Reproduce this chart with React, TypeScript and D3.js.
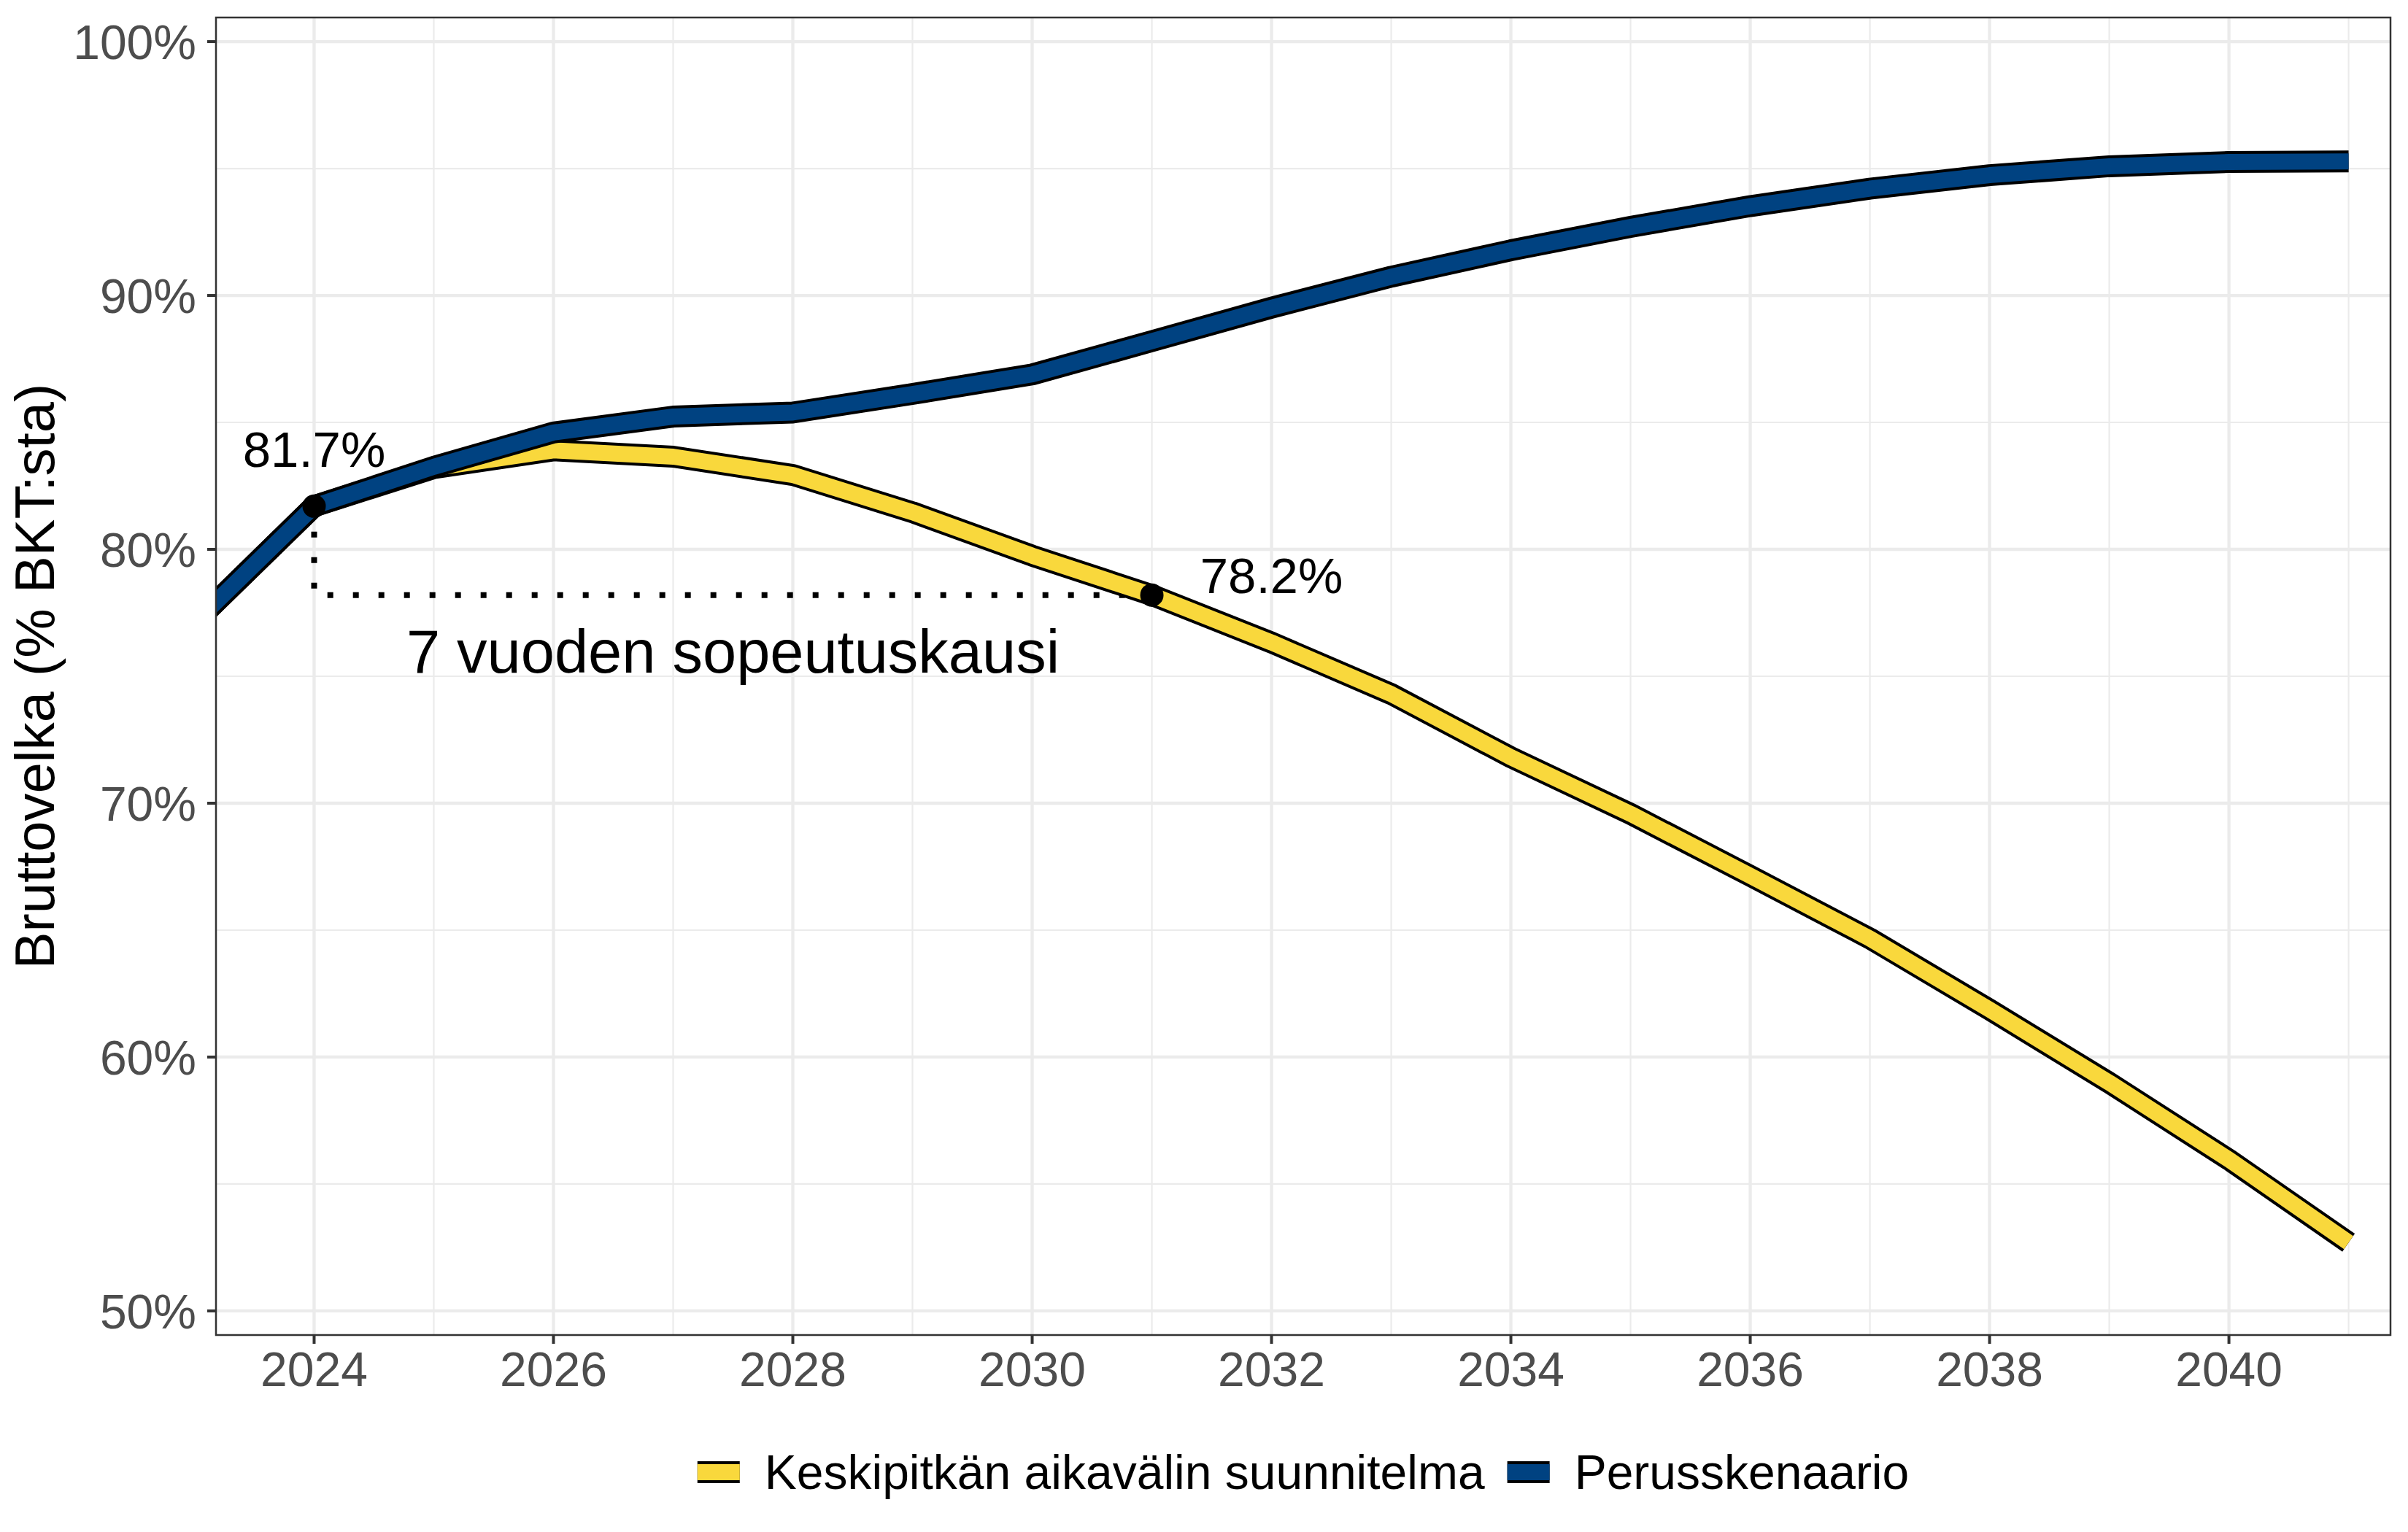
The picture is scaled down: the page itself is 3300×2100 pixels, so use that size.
import { useEffect, useRef } from 'react'
import * as d3 from 'd3'

const WIDTH = 3300
const HEIGHT = 2100
const PANEL = { left: 296, right: 3276, top: 24, bottom: 1830 }
const FONT = '"Liberation Sans", Arial, Helvetica, sans-serif'

const YEARS = [2023, 2024, 2025, 2026, 2027, 2028, 2029, 2030, 2031, 2032, 2033, 2034, 2035, 2036, 2037, 2038, 2039, 2040, 2041]
// Keskipitkän aikavälin suunnitelma
const PLAN = [77.1, 81.7, 83.2, 83.9, 83.65, 82.93, 81.46, 79.75, 78.2, 76.33, 74.3, 71.81, 69.58, 67.14, 64.67, 61.87, 58.99, 55.96, 52.69]
// Perusskenaario
const BASELINE = [77.1, 81.7, 83.25, 84.6, 85.23, 85.39, 86.12, 86.89, 88.2, 89.52, 90.74, 91.78, 92.7, 93.52, 94.21, 94.74, 95.09, 95.26, 95.28]

const X_TICKS = [2024, 2026, 2028, 2030, 2032, 2034, 2036, 2038, 2040]
const X_MINOR = [2025, 2027, 2029, 2031, 2033, 2035, 2037, 2039, 2041]
const Y_TICKS = [50, 60, 70, 80, 90, 100]
const Y_MINOR = [55, 65, 75, 85, 95]

const SERIES = [
  { key: 'plan', label: 'Keskipitkän aikavälin suunnitelma', color: '#f9d83c', values: PLAN },
  { key: 'base', label: 'Perusskenaario', color: '#004281', values: BASELINE },
]

const ANNOT_START = { year: 2024, value: 81.7, label: '81.7%' }
const ANNOT_END = { year: 2031, value: 78.2, label: '78.2%' }
const PERIOD_LABEL = '7 vuoden sopeutuskausi'

export default function App() {
  const svgRef = useRef<SVGSVGElement>(null)

  useEffect(() => {
    if (!svgRef.current) return
    const svg = d3.select(svgRef.current)
    svg.selectAll('*').remove()

    const x = d3.scaleLinear().domain([2023.18, 2041.35]).range([PANEL.left, PANEL.right])
    const y = d3.scaleLinear().domain([49.05, 100.95]).range([PANEL.bottom, PANEL.top])

    svg.append('rect').attr('width', WIDTH).attr('height', HEIGHT).attr('fill', '#ffffff')

    svg.append('clipPath').attr('id', 'panel-clip')
      .append('rect')
      .attr('x', PANEL.left).attr('y', PANEL.top)
      .attr('width', PANEL.right - PANEL.left).attr('height', PANEL.bottom - PANEL.top)

    // grid
    const grid = svg.append('g')
    grid.selectAll('.ymin').data(Y_MINOR).join('line')
      .attr('x1', PANEL.left).attr('x2', PANEL.right)
      .attr('y1', d => y(d)).attr('y2', d => y(d))
      .attr('stroke', '#ebebeb').attr('stroke-width', 2.2)
    grid.selectAll('.xmin').data(X_MINOR).join('line')
      .attr('y1', PANEL.top).attr('y2', PANEL.bottom)
      .attr('x1', d => x(d)).attr('x2', d => x(d))
      .attr('stroke', '#ebebeb').attr('stroke-width', 2.2)
    grid.selectAll('.ymaj').data(Y_TICKS).join('line')
      .attr('x1', PANEL.left).attr('x2', PANEL.right)
      .attr('y1', d => y(d)).attr('y2', d => y(d))
      .attr('stroke', '#ebebeb').attr('stroke-width', 4.3)
    grid.selectAll('.xmaj').data(X_TICKS).join('line')
      .attr('y1', PANEL.top).attr('y2', PANEL.bottom)
      .attr('x1', d => x(d)).attr('x2', d => x(d))
      .attr('stroke', '#ebebeb').attr('stroke-width', 4.3)

    const plot = svg.append('g').attr('clip-path', 'url(#panel-clip)')

    // dotted adjustment-period guide
    plot.append('path')
      .attr('d', `M${x(ANNOT_START.year)},${y(ANNOT_START.value)} V${y(ANNOT_END.value)} H${x(ANNOT_END.year)}`)
      .attr('fill', 'none').attr('stroke', '#000').attr('stroke-width', 8)
      .attr('stroke-dasharray', '8,27')

    const line = d3.line<number>()
      .x((_, i) => x(YEARS[i]))
      .y(d => y(d))

    SERIES.forEach(s => {
      plot.append('path').datum(s.values).attr('d', line)
        .attr('fill', 'none').attr('stroke', '#000').attr('stroke-width', 30)
        .attr('stroke-linejoin', 'round').attr('stroke-linecap', 'butt')
      plot.append('path').datum(s.values).attr('d', line)
        .attr('fill', 'none').attr('stroke', s.color).attr('stroke-width', 22)
        .attr('stroke-linejoin', 'round').attr('stroke-linecap', 'butt')
    })

    // points
    ;[ANNOT_START, ANNOT_END].forEach(p => {
      plot.append('circle').attr('cx', x(p.year)).attr('cy', y(p.value)).attr('r', 16).attr('fill', '#000')
    })

    // annotation text
    svg.append('text').attr('x', x(ANNOT_START.year)).attr('y', y(ANNOT_START.value) - 54)
      .attr('text-anchor', 'middle').attr('font-family', FONT).attr('font-size', 69).attr('fill', '#000')
      .text(ANNOT_START.label)
    svg.append('text').attr('x', x(ANNOT_END.year + 1)).attr('y', y(ANNOT_END.value) - 3)
      .attr('text-anchor', 'middle').attr('font-family', FONT).attr('font-size', 69).attr('fill', '#000')
      .text(ANNOT_END.label)
    svg.append('text').attr('x', x((ANNOT_START.year + ANNOT_END.year) / 2)).attr('y', y(ANNOT_END.value) + 106)
      .attr('text-anchor', 'middle').attr('font-family', FONT).attr('font-size', 83).attr('fill', '#000')
      .text(PERIOD_LABEL)

    // panel border
    svg.append('rect')
      .attr('x', PANEL.left).attr('y', PANEL.top)
      .attr('width', PANEL.right - PANEL.left).attr('height', PANEL.bottom - PANEL.top)
      .attr('fill', 'none').attr('stroke', '#333333').attr('stroke-width', 2.5)

    // y axis
    const yAxis = svg.append('g')
    yAxis.selectAll('line').data(Y_TICKS).join('line')
      .attr('x1', PANEL.left - 12).attr('x2', PANEL.left)
      .attr('y1', d => y(d)).attr('y2', d => y(d))
      .attr('stroke', '#333333').attr('stroke-width', 4)
    yAxis.selectAll('text').data(Y_TICKS).join('text')
      .attr('x', PANEL.left - 27).attr('y', d => y(d) + 24)
      .attr('text-anchor', 'end').attr('font-family', FONT).attr('font-size', 66).attr('fill', '#4d4d4d')
      .text(d => `${d}%`)

    // x axis
    const xAxis = svg.append('g')
    xAxis.selectAll('line').data(X_TICKS).join('line')
      .attr('x1', d => x(d)).attr('x2', d => x(d))
      .attr('y1', PANEL.bottom).attr('y2', PANEL.bottom + 12)
      .attr('stroke', '#333333').attr('stroke-width', 4)
    xAxis.selectAll('text').data(X_TICKS).join('text')
      .attr('x', d => x(d)).attr('y', PANEL.bottom + 70)
      .attr('text-anchor', 'middle').attr('font-family', FONT).attr('font-size', 66).attr('fill', '#4d4d4d')
      .text(d => d)

    // y title
    svg.append('text')
      .attr('transform', `translate(74,${(PANEL.top + PANEL.bottom) / 2}) rotate(-90)`)
      .attr('text-anchor', 'middle').attr('font-family', FONT).attr('font-size', 76).attr('fill', '#000')
      .text('Bruttovelka (% BKT:sta)')

    // legend
    const legend = svg.append('g')
    const keyW = 58
    const keyGap = 34
    const itemGap = 31
    const legendY = 2018
    const items = SERIES.map(s => {
      const g = legend.append('g')
      g.append('line').attr('x1', 0).attr('x2', keyW).attr('y1', legendY).attr('y2', legendY)
        .attr('stroke', '#000').attr('stroke-width', 30)
      g.append('line').attr('x1', 0).attr('x2', keyW).attr('y1', legendY).attr('y2', legendY)
        .attr('stroke', s.color).attr('stroke-width', 22)
      const t = g.append('text').attr('x', keyW + keyGap).attr('y', legendY + 23)
        .attr('font-family', FONT).attr('font-size', 66).attr('fill', '#000')
        .text(s.label)
      const w = (t.node() as SVGTextElement).getComputedTextLength()
      return { g, w: keyW + keyGap + w }
    })
    const total = d3.sum(items, d => d.w) + itemGap * (items.length - 1)
    let cx = (PANEL.left + PANEL.right) / 2 - total / 2
    items.forEach(it => {
      it.g.attr('transform', `translate(${cx},0)`)
      cx += it.w + itemGap
    })
  }, [])

  return (
    <svg
      ref={svgRef}
      width={WIDTH}
      height={HEIGHT}
      style={{ position: 'absolute', left: 0, top: 0, display: 'block' }}
    />
  )
}
